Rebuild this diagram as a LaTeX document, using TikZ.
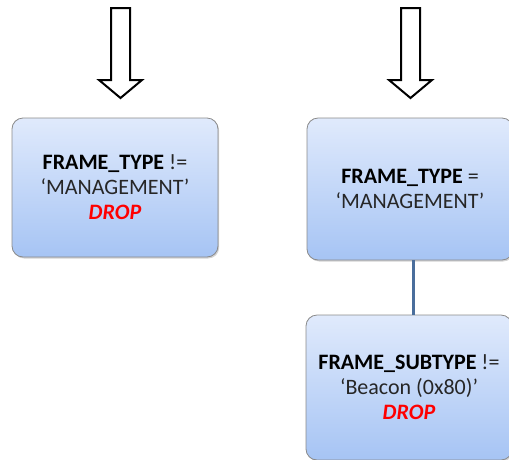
\documentclass[tikz,border=0pt]{standalone}
\usepackage{fontspec}
\setmainfont{Carlito}
\usetikzlibrary{shadows}
\definecolor{boxtop}{HTML}{E0EAFC}
\definecolor{boxbot}{HTML}{A6C4F4}
\definecolor{boxline}{HTML}{8A8A8A}
\definecolor{linkcol}{HTML}{4A6E9C}
\definecolor{txtgray}{HTML}{262626}
\definecolor{dropred}{HTML}{FF0000}
\tikzset{
  rulebox/.style={rounded corners=11pt, draw=boxline, line width=0.8pt,
    top color=boxtop, bottom color=boxbot,
    drop shadow={shadow xshift=1.2pt, shadow yshift=-1.5pt, opacity=0.35},
    minimum width=206pt, align=center, text=txtgray,
    font=\fontsize{22}{25}\selectfont, inner sep=0pt},
  bigarrow/.style={draw=black, fill=white, line width=2pt, line join=miter},
  link/.style={draw=linkcol, line width=3pt}
}
\newcommand{\dropword}{\textcolor{dropred}{\bfseries\itshape DROP}}
\begin{document}
\begin{tikzpicture}[x=1pt,y=-1pt]
\useasboundingbox (0,0) rectangle (509,459);
\clip (0,0) rectangle (509,459);
% arrows
\draw[bigarrow] (111,8) -- (130,8) -- (130,80) -- (142,80) -- (120.5,98) -- (99,80) -- (111,80) -- cycle;
\draw[bigarrow] (401,8) -- (420,8) -- (420,80) -- (432,80) -- (410.5,98) -- (389,80) -- (401,80) -- cycle;
% boxes
\node[rulebox, minimum height=139pt] (drop1) at (115,187.5)
  {\textcolor{black}{\bfseries FRAME\_TYPE} !=\\ ‘MANAGEMENT’\\ \dropword};
\node[rulebox, minimum height=142pt] (mgmt) at (410,189)
  {\textcolor{black}{\bfseries FRAME\_TYPE} =\\ ‘MANAGEMENT’};
\node[rulebox, minimum height=145pt] (beacon) at (409,387.5)
  {\textcolor{black}{\bfseries FRAME\_SUBTYPE} !=\\ ‘Beacon (0x80)’\\ \dropword};
\draw[link] (413,0 |- mgmt.south) -- (413,0 |- beacon.north);
\end{tikzpicture}
\end{document}
